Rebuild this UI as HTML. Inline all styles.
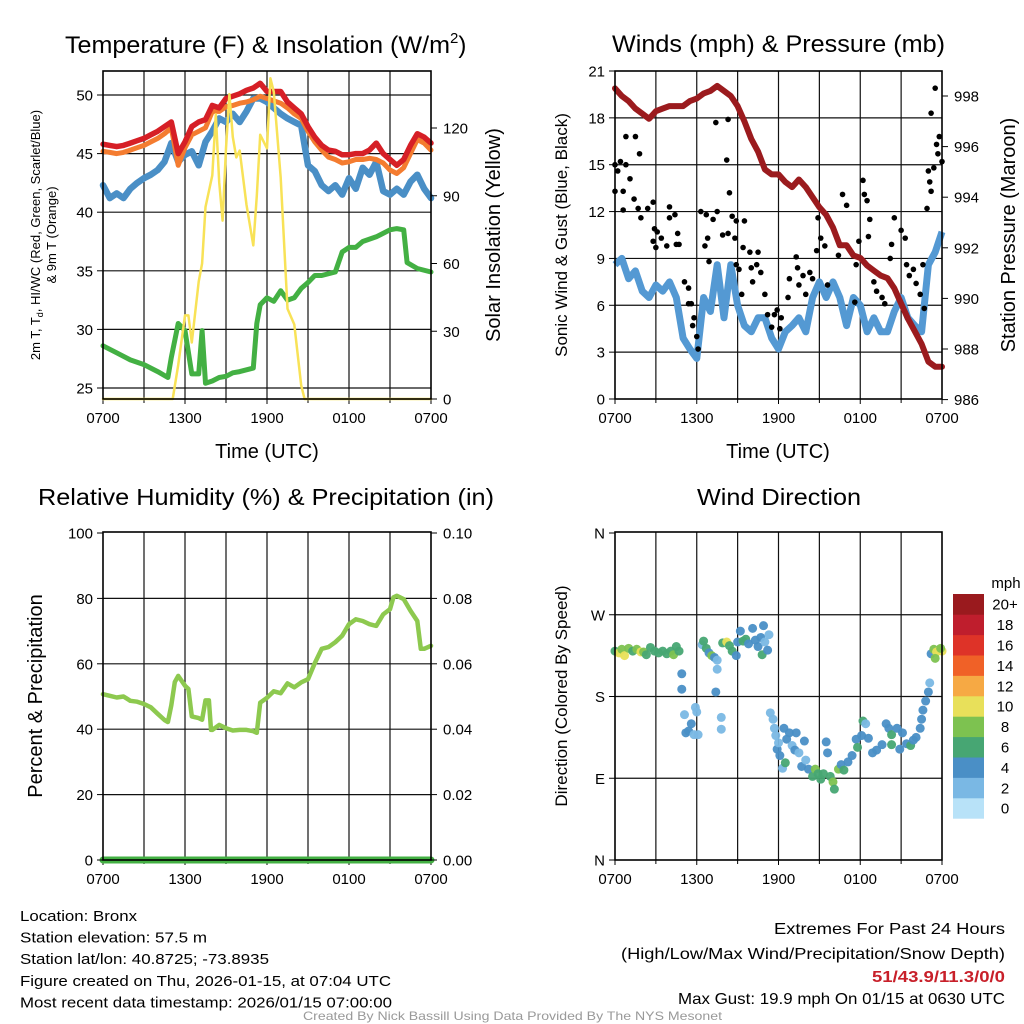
<!DOCTYPE html>
<html><head><meta charset="utf-8"><style>
html,body{margin:0;padding:0;background:#fff;}
svg{display:block;font-family:"Liberation Sans",sans-serif;}
</style></head><body>
<svg id="chart" width="1024" height="1024" viewBox="0 0 1024 1024" xmlns="http://www.w3.org/2000/svg"></svg>
<script>
// ---------- DATA ----------
const halfHours = [0,0.5,1,1.5,2,2.5,3,3.5,4,4.5,5,5.5,6,6.5,7,7.5,8,8.5,9,9.5,10,10.5,11,11.5,12,12.5,13,13.5,14,14.5,15,15.5,16,16.5,17,17.5,18,18.5,19,19.5,20,20.5,21,21.5,22,22.5,23,23.5,24];
const tempRed = [45.8,45.7,45.6,45.7,45.9,46.1,46.3,46.6,46.9,47.3,47.7,45.0,46.0,47.3,47.7,47.9,49.1,48.9,49.7,49.9,50.1,50.4,50.6,51.0,50.3,50.3,50.3,49.4,48.9,48.4,47.3,46.4,45.7,45.3,45.2,44.9,44.9,45.0,45.0,45.3,45.9,45.0,44.5,44.0,44.5,45.7,46.7,46.4,45.9];
const temp9m = [45.2,45.1,45.0,45.1,45.3,45.5,45.7,46.0,46.3,46.7,47.2,44.0,45.5,46.6,46.9,47.2,48.6,48.6,49.0,49.1,49.3,49.4,49.6,49.9,49.7,49.5,49.3,48.9,48.4,48.0,46.9,46.0,45.3,44.7,44.5,44.2,44.3,44.5,44.5,44.6,44.5,44.2,43.6,43.3,43.8,45.0,46.2,45.9,45.3];
const tempBlue = [42.3,41.2,41.6,41.2,42.0,42.5,42.9,43.2,43.6,44.3,45.9,44.3,44.9,45.2,44.0,46.0,46.9,48.0,47.7,48.4,47.7,48.6,49.7,49.7,49.4,48.9,48.4,48.0,47.7,47.4,44.0,43.5,42.3,41.8,42.3,41.5,42.9,42.0,43.8,43.2,44.3,41.8,41.5,42.0,41.5,42.6,43.2,42.0,41.2];
const dewGreenHours = [0,1,2,3,4,4.75,5,5.5,6,6.5,7,7.25,7.5,8,8.5,9,9.5,10,11,11.25,11.5,12,12.5,13,13.5,14,14.5,15,15.5,16,17,17.5,18,18.5,19,20,21,21.5,22,22.25,23,24];
const dewGreen = [28.6,28.0,27.4,27.0,26.4,25.9,27.6,30.5,29.9,26.2,26.2,29.9,25.4,25.6,25.9,26.0,26.3,26.4,26.7,30.5,32.1,32.7,32.4,33.3,32.5,32.7,33.5,34.0,34.6,34.6,34.9,36.6,37.0,37.0,37.5,37.9,38.5,38.6,38.5,35.7,35.2,34.9];
const solarHours = [0,5,5.1,5.5,6,6.25,6.5,7,7.25,7.5,8,8.25,8.5,8.75,9,9.25,9.5,9.75,10,10.5,11,11.25,11.5,12,12.25,12.5,13,13.5,14,14.5,14.75,24];
const solarValues = [0,0,0,15,37,37,25,52,60,85,99,126,96,79,111,135,116,107,110,86,68,90,117,111,142,136,98,40,33,6,0,0];
const pressure = [998.3,998.0,997.8,997.5,997.3,997.1,997.4,997.5,997.6,997.6,997.6,997.8,997.9,998.1,998.2,998.4,998.2,998.0,997.6,997.0,996.3,995.8,995.1,994.9,994.9,994.6,994.4,994.7,994.4,994.0,993.6,993.3,992.8,992.1,992.1,991.7,991.6,991.3,991.1,990.9,990.8,990.4,989.8,989.2,988.7,988.2,987.5,987.3,987.3];
const windSpeed = [8.6,9.0,7.7,8.2,6.9,6.5,7.3,6.9,7.5,6.5,3.9,3.2,2.6,6.5,5.6,8.6,5.2,8.6,6.0,4.7,4.3,5.2,5.2,3.9,3.2,4.3,4.7,5.2,4.3,6.5,7.5,6.5,7.5,6.5,4.7,6.5,6.0,4.3,5.2,4.3,4.3,5.6,6.5,5.2,4.7,4.3,8.6,9.4,10.7];
const gustHours = [0,0.2,0.4,0,0.6,0.8,1.1,0.8,1.5,1.8,0.6,1.4,1.7,1.9,2.4,2.8,2.9,2.8,3.1,3.4,3.0,3.8,4,4,4.4,4.6,4.5,4.7,5.1,5.4,5.4,5.6,5.8,5.7,6.0,6.1,6.3,6.7,6.8,6.6,6.9,7.2,7.4,7.5,8.2,8.3,8.4,7.9,8.3,8.6,8.9,8.8,9.4,8.9,9.1,9.3,9.5,9.9,10,10.1,10.5,10.4,10.7,11,11.2,11.5,11.7,11.9,12.2,12.1,12.7,12.8,13.3,13.4,13.8,13.5,14,14.3,14.5,14.9,15.1,15.4,14.8,15.6,16.4,16.7,17,17.6,17.7,17.9,18.2,18.3,18.5,18.7,18.6,19,19.2,19.6,19.8,20.2,20.3,20.5,21,21.3,21.4,21.6,21.9,22.1,22.4,22.6,22.7,22.9,23,23.1,23.2,23.4,23.6,23.7,23.8,24,23.2,23.5];
const gustValues = [15.0,14.6,15.2,13.3,13.3,15.0,14.1,16.8,16.8,15.7,12.1,12.8,12.2,11.6,12.2,12.6,10.9,10.1,10.7,10.3,9.7,9.8,12.3,11.6,11.8,10.6,9.9,9.9,7.5,7.1,6.1,6.1,5.2,4.7,4.0,3.2,12.0,11.8,10.3,9.8,8.8,11.5,17.7,12.0,15.3,17.9,13.2,10.5,10.6,11.7,11.4,10.3,9.7,8.6,8.3,6.7,11.4,9.4,8.4,7.5,9.4,8.6,8.1,6.7,5.4,4.6,5.4,5.7,5.2,4.5,6.5,7.7,9.1,8.4,7.9,7.3,6.7,8.1,7.7,11.6,10.3,9.8,9.5,7.3,9.2,13.1,12.4,6.2,8.6,10.1,14.0,13.1,12.7,11.5,10.4,7.5,6.9,6.5,6.1,9.0,9.9,11.6,10.8,10.3,8.6,7.9,8.3,7.4,6.7,8.6,5.8,12.2,14.6,13.9,13.3,14.8,16.3,15.7,16.8,15.2,18.3,19.9];
const rhHours = [0,0.5,1,1.5,2,2.5,3,3.5,4,4.5,4.75,5,5.25,5.5,6,6.25,6.5,7,7.25,7.5,7.75,7.9,8,8.5,9,9.5,10,10.5,11,11.25,11.5,12,12.5,13,13.25,13.5,14,14.5,15,15.5,16,16.5,17,17.5,18,18.5,19,19.5,20,20.5,21,21.25,21.5,22,22.5,23,23.25,23.5,24];
const rhValues = [50.7,50.2,49.7,50.0,48.7,48.4,47.7,46.7,44.7,42.8,42.2,47.3,54.4,56.3,53.3,52.3,43.9,43.4,42.9,48.8,48.8,39.8,39.8,41.3,40.3,39.6,39.8,39.8,39.4,38.9,48.1,49.6,51.6,51.0,52.5,54.0,52.8,54.3,55.3,60.2,64.6,65.1,66.6,68.6,72.1,73.6,73.1,72.1,71.6,75.1,76.7,80.3,80.8,79.8,76.2,73.1,64.6,64.6,65.5];
const precipHours = [0,24];
const precipValues = [0,0];
const dirHours = [0,0.3,0.5,0.7,1,1.3,1.6,1.9,2.1,2.3,2.6,2.9,3.2,3.5,3.8,4.1,4.3,4.5,4.7,4.9,4.9,5.1,5.2,5.4,5.6,5.8,5.9,6.0,6.1,6.4,6.5,6.7,6.9,7.1,7.3,7.5,7.5,7.4,7.8,7.8,7.9,8.2,8.4,8.6,8.9,9.0,9.2,9.4,9.6,9.8,10.1,10.3,10.5,10.7,10.8,10.9,11.0,11.3,11.2,11.4,11.6,11.7,11.8,11.9,12.0,12.1,12.3,12.4,12.6,12.8,12.5,13.0,13.2,13.3,13.5,13.7,13.9,14.0,14.2,14.5,14.7,14.9,15.1,15.3,15.5,15.6,15.8,16.0,16.1,16.4,16.6,16.8,17.1,17.4,17.7,17.8,18.1,18.2,18.4,18.6,18.9,19.2,19.6,19.9,20.1,20.3,20.3,20.7,20.9,21.1,21.4,21.7,21.9,22.1,22.4,22.5,22.6,22.8,23.0,23.1,23.2,23.4,23.6,23.8,24.0,23.9,23.5];
const dirValues = [230,228,232,225,233,230,232,229,229,226,234,230,228,230,227,230,226,235,230,205,188,160,140,142,150,138,168,163,138,237,241,233,228,225,223,210,220,185,157,144,239,240,236,230,225,240,252,241,243,238,255,242,235,245,226,258,240,248,231,162,155,145,137,122,129,115,101,145,133,140,107,126,121,140,118,103,131,110,100,92,100,95,89,95,130,118,92,86,78,100,105,99,108,115,133,124,137,153,150,134,118,121,127,150,145,138,127,145,122,140,128,126,132,135,145,155,165,175,185,195,227,232,229,231,230,233,222];
const dirSpeeds = [6,10,8,10,8,7,8,10,8,6,6,6,6,6,6,6,8,6,6,4,4,2,4,4,4,2,2,2,2,2,6,6,4,8,4,2,2,4,2,2,6,10,6,6,4,4,4,6,6,4,4,4,4,4,6,4,2,2,4,2,2,2,2,4,2,4,2,4,4,4,6,2,4,4,2,4,4,2,4,6,8,6,6,6,4,4,6,8,6,8,4,6,4,4,4,6,4,6,2,4,4,4,4,4,4,6,6,4,4,4,4,6,4,4,4,4,4,4,4,2,4,8,10,10,10,8,8];
const speedBins = ["0","2","4","6","8","10","12","14","16","18","20+"];
const binColors = ["#b8e2f8","#7ab8e4","#4a8fc6","#47a673","#7dc250","#e8e05a","#f6a944","#f06127","#de3328","#bf1e2d","#9a1a1e"];
const timeTickHours = [0,6,12,18,24];
const timeTickLabels = ["0700","1300","1900","0100","0700"];
const tempTicks = [25,30,35,40,45,50];
const solarTicks = [0,30,60,90,120];
const windTicks = [0,3,6,9,12,15,18,21];
const pressTicks = [986,988,990,992,994,996,998];
const rhTicks = [0,20,40,60,80,100];
const precipTickLabels = ["0.00","0.02","0.04","0.06","0.08","0.10"];
const dirTicks = [0,90,180,270,360];
const dirTickLabels = ["N","E","S","W","N"];

// ---------- HELPERS ----------
const svg = document.getElementById('chart');
const NS = 'http://www.w3.org/2000/svg';
function mk(tag, attrs, parent){
  const e = document.createElementNS(NS, tag);
  for (const k in attrs) e.setAttribute(k, attrs[k]);
  (parent||svg).appendChild(e);
  return e;
}
function txt(s, x, y, size, anchor, parent, extra){
  const e = mk('text', Object.assign({x:x, y:y, 'font-size':size, 'text-anchor':anchor||'start', fill:'#000'}, extra||{}), parent);
  e.textContent = s;
  return e;
}
function lin(d0,d1,r0,r1){ return v => r0 + (v-d0)/(d1-d0)*(r1-r0); }
function pathFrom(xs, ys, fx, fy){
  let d = '';
  for (let i=0;i<xs.length;i++) d += (i?'L':'M') + fx(xs[i]).toFixed(1) + ' ' + fy(ys[i]).toFixed(1);
  return d;
}
function rotLabel(s, x, y, size, name){
  const e = txt(s, x, y, size, 'middle', svg, {transform:'rotate(-90 '+x+' '+y+')'});
  
  
  return e;
}

function panel(cfg){
  const g = mk('g', {});
  
  
  const {x0,x1,y0,y1} = cfg;
  const fx = lin(0,24,x0,x1);
  for (let h=3; h<24; h+=3){
    const l = mk('line', {x1:fx(h), x2:fx(h), y1:y0, y2:y1, stroke:'#111', 'stroke-width':1.2}, g);
    
    
  }
  cfg.hgrid.forEach(v=>{
    const y = cfg.fy(v);
    if (y<=y0+1 || y>=y1-1) return;
    const l = mk('line', {x1:x0, x2:x1, y1:y, y2:y, stroke:'#111', 'stroke-width':1.2}, g);
    
    
  });
  const xt = mk('g', {}, g);
  
  
  timeTickHours.forEach((h,i)=>{
    mk('line', {x1:fx(h), x2:fx(h), y1:y1, y2:y1+5, stroke:'#000', 'stroke-width':1}, xt);
    const t = txt(timeTickLabels[i], fx(h), y1+24, 15, 'middle', xt);
    
    
  });
  for (let h=3; h<24; h+=6) mk('line', {x1:fx(h), x2:fx(h), y1:y1, y2:y1+4, stroke:'#000', 'stroke-width':1}, xt);
  return {g, fx};
}
function frame(cfg, g){
  const r = mk('rect', {x:cfg.x0, y:cfg.y0, width:cfg.x1-cfg.x0, height:cfg.y1-cfg.y0, fill:'none', stroke:'#000', 'stroke-width':1.6}, g);
  
  
}
function yTicks(values, labels, fy, x, side, g, name){
  const tg = mk('g', {}, g);
  
  
  values.forEach((v,i)=>{
    const y = fy(v);
    mk('line', {x1:x, x2:x+(side==='left'?-6:6), y1:y, y2:y, stroke:'#000', 'stroke-width':1}, tg);
    const t = txt(labels[i], side==='left'? x-10 : x+12, y+5.5, 15, side==='left'?'end':'start', tg);
    
    
  });
}

// ---------- PANEL 1: Temperature ----------
(function(){
  const cfg = {name:'temperature-panel', x0:103, x1:431, y0:71, y1:399};
  cfg.fy = lin(25,50,388,95);
  cfg.hgrid = tempTicks;
  const {g, fx} = panel(cfg);
  const fs = lin(0,120,399,128);
  const series = [
    ['dewpoint-line', dewGreenHours, dewGreen, '#43b043', 5, cfg.fy],
    ['heat-index-line', halfHours, tempBlue, '#4a8fc6', 6.5, cfg.fy],
    ['temp-9m-line', halfHours, temp9m, '#f47c30', 5, cfg.fy],
    ['temp-2m-line', halfHours, tempRed, '#d61f26', 5.5, cfg.fy],
    ['solar-insolation-line', solarHours, solarValues, '#f8e257', 2.5, fs]
  ];
  series.forEach(s=>{
    const p = mk('path', {d:pathFrom(s[1], s[2], fx, s[5]), fill:'none', stroke:s[3], 'stroke-width':s[4], 'stroke-linejoin':'round', 'stroke-linecap':'round'}, g);
    
    
  });
  frame(cfg, g);
  yTicks(tempTicks, tempTicks.map(String), cfg.fy, cfg.x0, 'left', g, 'temp-y-axis');
  yTicks(solarTicks, solarTicks.map(String), fs, cfg.x1, 'right', g, 'solar-y-axis');
  const t = txt('Temperature (F) & Insolation (W/m', 65, 53, 24, 'start', svg, {textLength:385, lengthAdjust:'spacingAndGlyphs'});
  
  
  const t2 = txt('', 450, 53, 24, 'start');
  t2.innerHTML = '<tspan dy="-10" font-size="15">2</tspan><tspan dy="10">)</tspan>';
  
  
  const xl = txt('Time (UTC)', 267, 458, 20, 'middle');
  
  
  const yl = txt('', 40, 235, 13, 'middle', svg, {transform:'rotate(-90 40 235)'});
  yl.innerHTML = '2m T, T<tspan font-size="9" dy="3">d</tspan><tspan dy="-3">, HI/WC (Red, Green, Scarlet/Blue)</tspan>';
  
  
  rotLabel('& 9m T (Orange)', 56, 235, 13, 'temp-y-axis-title-line2');
  rotLabel('Solar Insolation (Yellow)', 500, 235, 20, 'solar-y-axis-title');
})();

// ---------- PANEL 2: Winds ----------
(function(){
  const cfg = {name:'winds-panel', x0:615, x1:942, y0:71, y1:399};
  cfg.fy = lin(0,21,399,71);
  cfg.hgrid = windTicks;
  const {g, fx} = panel(cfg);
  const fp = lin(986,998,399.6,96);
  const w = mk('path', {d:pathFrom(halfHours, windSpeed, fx, cfg.fy), fill:'none', stroke:'#5499d3', 'stroke-width':7, 'stroke-linejoin':'round'}, g);
  
  
  const dg = mk('g', {}, g);
  
  
  gustHours.forEach((h,i)=>{
    const c = mk('circle', {cx:fx(h), cy:cfg.fy(gustValues[i]), r:2.8, fill:'#000'}, dg);
    
    
  });
  const p = mk('path', {d:pathFrom(halfHours, pressure, fx, fp), fill:'none', stroke:'#9b1b1e', 'stroke-width':6, 'stroke-linejoin':'round', 'stroke-linecap':'round'}, g);
  
  
  frame(cfg, g);
  yTicks(windTicks, windTicks.map(String), cfg.fy, cfg.x0, 'left', g, 'wind-y-axis');
  yTicks(pressTicks, pressTicks.map(String), fp, cfg.x1, 'right', g, 'pressure-y-axis');
  const t = txt('Winds (mph) & Pressure (mb)', 612, 52, 24, 'start', svg, {textLength:333, lengthAdjust:'spacingAndGlyphs'});
  
  
  const xl = txt('Time (UTC)', 778, 458, 20, 'middle');
  
  
  rotLabel('Sonic Wind & Gust (Blue, Black)', 567, 235, 17, 'wind-y-axis-title');
  rotLabel('Station Pressure (Maroon)', 1015, 235, 20, 'pressure-y-axis-title');
})();

// ---------- PANEL 3: RH ----------
(function(){
  const cfg = {name:'humidity-panel', x0:103, x1:431, y0:532, y1:860};
  cfg.fy = lin(0,100,860,533);
  cfg.hgrid = rhTicks;
  const {g, fx} = panel(cfg);
  const fpr = lin(0,0.1,860,533);
  const pr = mk('path', {d:pathFrom(precipHours, precipValues, fx, fpr), fill:'none', stroke:'#43b043', 'stroke-width':7, 'stroke-linecap':'round'}, g);
  
  
  const p = mk('path', {d:pathFrom(rhHours, rhValues, fx, cfg.fy), fill:'none', stroke:'#8dc94f', 'stroke-width':4.5, 'stroke-linejoin':'round', 'stroke-linecap':'round'}, g);
  
  
  frame(cfg, g);
  yTicks(rhTicks, rhTicks.map(String), cfg.fy, cfg.x0, 'left', g, 'rh-y-axis');
  yTicks(rhTicks, precipTickLabels, cfg.fy, cfg.x1, 'right', g, 'precip-y-axis');
  const t = txt('Relative Humidity (%) & Precipitation (in)', 38, 505, 23, 'start', svg, {textLength:456, lengthAdjust:'spacingAndGlyphs'});
  
  
  rotLabel('Percent & Precipitation', 42, 696, 20, 'rh-y-axis-title');
})();

// ---------- PANEL 4: Wind Direction ----------
(function(){
  const cfg = {name:'wind-direction-panel', x0:615, x1:942, y0:532, y1:860};
  cfg.fy = lin(0,360,860,533);
  cfg.hgrid = dirTicks;
  const {g, fx} = panel(cfg);
  const dg = mk('g', {}, g);
  
  
  dirHours.forEach((h,i)=>{
    const bin = Math.min(10, Math.floor(dirSpeeds[i]/2));
    const c = mk('circle', {cx:fx(h), cy:cfg.fy(dirValues[i]), r:4.5, fill:binColors[bin], 'fill-opacity':0.95}, dg);
    
    
  });
  frame(cfg, g);
  yTicks(dirTicks, dirTickLabels, cfg.fy, cfg.x0, 'left', g, 'direction-y-axis');
  const t = txt('Wind Direction', 697, 505, 23, 'start', svg, {textLength:164, lengthAdjust:'spacingAndGlyphs'});
  
  
  rotLabel('Direction (Colored By Speed)', 567, 696, 17, 'direction-y-axis-title');
  const cb = mk('g', {});
  
  
  const top = 594, bh = 20.4;
  speedBins.forEach((lab,i)=>{
    const k = speedBins.length-1-i;
    const y = top + k*bh;
    const r = mk('rect', {x:953, y:y, width:31, height:bh+0.3, fill:binColors[i]}, cb);
    
    
    const tt = txt(lab, 1005, y+bh/2+5.5, 15, 'middle', cb);
    
    
  });
  const u = txt('mph', 1006, 588, 15, 'middle', cb);
  
  
})();

// ---------- FOOTER ----------
const leftLines = [["Location: Bronx",117],["Station elevation: 57.5 m",187],["Station lat/lon: 40.8725; -73.8935",249],["Figure created on Thu, 2026-01-15, at 07:04 UTC",371],["Most recent data timestamp: 2026/01/15 07:00:00",372]];
leftLines.forEach((l,i)=>{
  const t = txt(l[0], 20, 921+i*21.6, 15, 'start', svg, {textLength:l[1], lengthAdjust:'spacingAndGlyphs'});
  
  
});
const rightLines = [["Extremes For Past 24 Hours",934,231,'#000','normal'],["(High/Low/Max Wind/Precipitation/Snow Depth)",959,384,'#000','normal'],["51/43.9/11.3/0/0",982,133,'#c8202a','bold'],["Max Gust: 19.9 mph On 01/15 at 0630 UTC",1004,327,'#000','normal']];
rightLines.forEach(l=>{
  const t = txt(l[0], 1005-l[2], l[1], 16, 'start', svg, {textLength:l[2], lengthAdjust:'spacingAndGlyphs', fill:l[3], 'font-weight':l[4]});
  
  
});
const cr = txt('Created By Nick Bassill Using Data Provided By The NYS Mesonet', 303, 1020, 12, 'start', svg, {textLength:419, lengthAdjust:'spacingAndGlyphs', fill:'#999'});


</script>
</body></html>
